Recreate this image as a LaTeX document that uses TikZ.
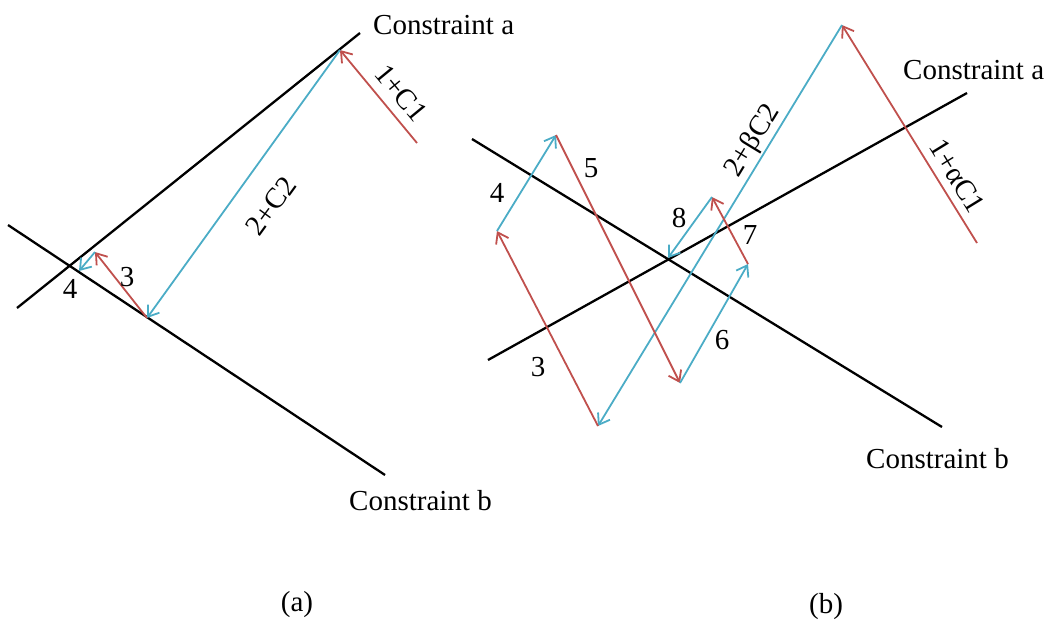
\documentclass[tikz,border=0pt]{standalone}
\usepackage{fontspec}
\setmainfont{Liberation Serif}
\usetikzlibrary{arrows.meta}
\definecolor{cred}{RGB}{192,80,77}
\definecolor{cblue}{RGB}{75,172,198}
\begin{document}
\begin{tikzpicture}[x=1pt,y=-1pt,
  cline/.style={line width=2.3pt,black},
  redarr/.style={line width=1.8pt,cred,-{Straight Barb[length=10pt,width=14pt,line width=1.8pt]}},
  bluearr/.style={line width=1.8pt,cblue,-{Straight Barb[length=10pt,width=14pt,line width=1.8pt]}},
  lbl/.style={font=\fontsize{29}{34}\selectfont,inner sep=0pt}]
\useasboundingbox (0,0) rectangle (1052,619);
% ---------- panel (a) ----------
\coordinate (A1) at (17,308);
\coordinate (A2) at (360,33);
\coordinate (B1) at (8,225);
\coordinate (B2) at (385,475);
\coordinate (P0) at (417,143);
\coordinate (P1) at (340,50);
\coordinate (P2) at (147,318);
\coordinate (P3) at (95,252);
\coordinate (P4) at (79,271);
\draw[cline] (A1) -- (A2);
\draw[cline] (B1) -- (B2);
\draw[redarr] (P0) -- (P1);
\draw[bluearr] (P1) -- (P2);
\draw[redarr] (P2) -- (P3);
\draw[bluearr] (P3) -- (P4);
\node[lbl,rotate=-50.5] (l1a) at (401,93) {1+C1};
\node[lbl,rotate=54] (l2a) at (271,206) {2+C2};
\node[lbl] (l3a) at (127,277) {3};
\node[lbl] (l4a) at (70,289) {4};
\node[lbl,anchor=west] (ca) at (373,25) {Constraint a};
\node[lbl,anchor=west] (cb) at (349,501) {Constraint b};
\node[lbl] (pa) at (297,605) {(a)};
% ---------- panel (b) ----------
\coordinate (Ca1) at (488,360);
\coordinate (Ca2) at (967,93);
\coordinate (Cb1) at (472,139);
\coordinate (Cb2) at (942,427);
\coordinate (Q0) at (977,243);
\coordinate (Q1) at (842,25);
\coordinate (Q2) at (598,426);
\coordinate (Q3) at (497,231);
\coordinate (Q4) at (556,135);
\coordinate (Q5) at (680,383);
\coordinate (Q6) at (748,264);
\coordinate (Q7) at (712,197);
\coordinate (Q8) at (668,258);
\draw[cline] (Ca1) -- (Ca2);
\draw[cline] (Cb1) -- (Cb2);
\draw[redarr] (Q0) -- (Q1);
\draw[bluearr] (Q1) -- (Q2);
\draw[redarr] (Q2) -- (Q3);
\draw[bluearr] (Q3) -- (Q4);
\draw[redarr] (Q4) -- (Q5);
\draw[bluearr] (Q5) -- (Q6);
\draw[redarr] (Q6) -- (Q7);
\draw[bluearr] (Q7) -- (Q8);
\node[lbl,rotate=58.7] (l2b) at (753,141) {2+βC2};
\node[lbl,rotate=-58.4] (l1b) at (957,176) {1+αC1};
\node[lbl] (l3b) at (538,367) {3};
\node[lbl] (l4b) at (497,193) {4};
\node[lbl] (l5b) at (591,168) {5};
\node[lbl] (l6b) at (722,340) {6};
\node[lbl] (l7b) at (750,235) {7};
\node[lbl] (l8b) at (679,218) {8};
\node[lbl,anchor=west] (cab) at (903,70) {Constraint a};
\node[lbl,anchor=west] (cbb) at (866,459) {Constraint b};
\node[lbl] (pb) at (826,607) {(b)};
\end{tikzpicture}
\end{document}
